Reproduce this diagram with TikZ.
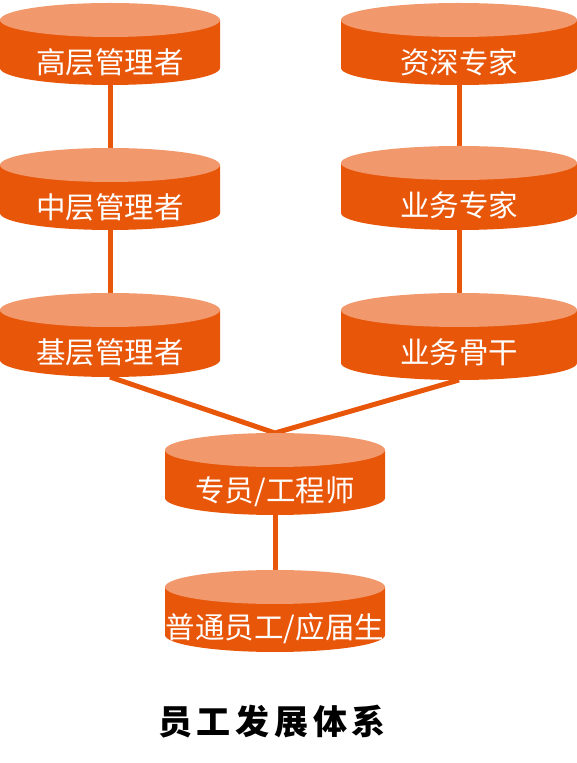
\documentclass[tikz,border=0pt]{standalone}
\usepackage{fontspec}
\newfontfamily\cjk{Noto Sans CJK SC}
\newfontfamily\cjktitle[LetterSpace=14]{Noto Sans CJK SC}
\definecolor{cyldark}{RGB}{232,86,10}
\definecolor{cyllight}{RGB}{241,153,108}
\pgfdeclarelayer{bg}
\pgfsetlayers{bg,main}
\tikzset{
  cyltext/.style={text=white, font=\cjk\fontsize{29.5}{32}\selectfont, inner sep=0pt},
  conn/.style={draw=cyldark, line width=5pt, line join=miter},
}
\newcommand\mycyl[6]{%
  \pgfmathsetmacro\cx{(#2+#3)/2}%
  \pgfmathsetmacro\rx{(#3-#2)/2}%
  \pgfmathsetmacro\yt{763-#4-17}%
  \pgfmathsetmacro\yb{763-#5+17}%
  \pgfmathsetmacro\ytx{763-#4-59}%
  \fill[cyldark] (#2,\yt) -- (#2,\yb) arc[start angle=180,end angle=360,x radius=\rx pt,y radius=17pt] -- (#3,\yt) -- cycle;
  \fill[cyllight] (\cx,\yt) ellipse[x radius=\rx pt,y radius=17pt];
  \node[cyltext] (#1) at (\cx,\ytx) {#6};
  \coordinate (#1-t) at (\cx,763-#4);
  \coordinate (#1-b) at (\cx,763-#5);
}
\begin{document}
\begin{tikzpicture}[x=1pt,y=1pt]
\useasboundingbox (0,0) rectangle (577,763);
\mycyl{c1}{0}{220}{3}{85}{高层管理者}
\mycyl{c2}{0}{220}{148}{230}{中层管理者}
\mycyl{c3}{0}{220}{293}{377}{基层管理者}
\mycyl{r1}{341}{577}{3}{85}{资深专家}
\mycyl{r2}{341}{577}{146}{230}{业务专家}
\mycyl{r3}{341}{577}{293}{380}{业务骨干}
\mycyl{m1}{165}{385}{433}{515}{专员/工程师}
\mycyl{m2}{165}{385}{570}{652}{普通员工/应届生}
\begin{pgfonlayer}{bg}
\draw[conn] (c1-b) -- (c2-t);
\draw[conn] (c2-b) -- (c3-t);
\draw[conn] (r1-b) -- (r2-t);
\draw[conn] (r2-b) -- (r3-t);
\draw[conn] (c3-b) -- (m1-t) -- (r3-b);
\draw[conn] (m1-b) -- (m2-t);
\end{pgfonlayer}
\node[font=\cjktitle\bfseries\fontsize{34}{38}\selectfont, inner sep=0pt] (title) at (272,41) {员工发展体系};
\end{tikzpicture}
\end{document}
